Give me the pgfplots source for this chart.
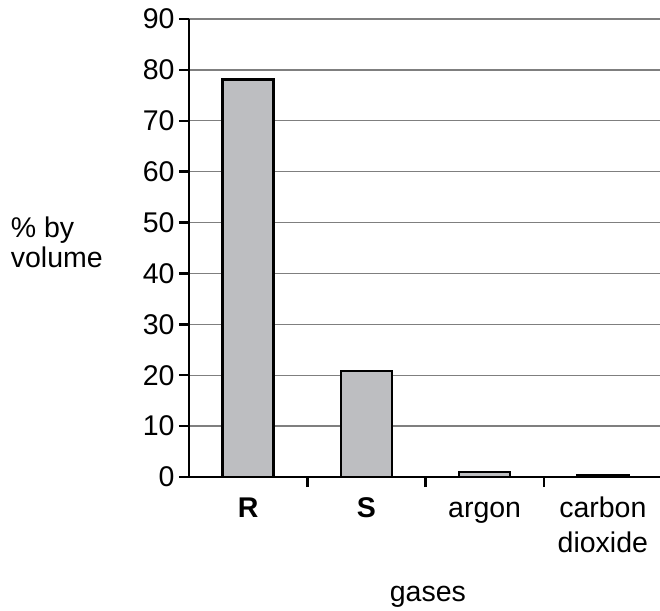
\documentclass[border=0pt]{standalone}
\usepackage{pgfplots}
\pgfplotsset{compat=1.18}
\usepackage{fontspec}
\setmainfont{Liberation Sans}
\definecolor{barfill}{HTML}{BDBEC1}
\definecolor{gridc}{HTML}{7F7F7F}
\begin{document}
\begin{tikzpicture}[x=1pt,y=1pt]
\path[use as bounding box] (0,0) rectangle (660,610);
\begin{axis}[
  at={(189pt,133pt)}, anchor=south west,
  scale only axis, width=473pt, height=458pt,
  xmin=0, xmax=4, ymin=0, ymax=90,
  axis lines*=left,
  axis line style={line width=2.5pt, black},
  ytick={0,10,...,90},
  ymajorgrids, grid style={gridc, line width=1.3pt},
  tick align=outside,
  major tick length=10pt,
  every tick/.style={black, line width=2.5pt},
  xtick={0.5,1.5,2.5,3.5},
  xticklabels={\strut\textbf{R},\strut\textbf{S},\strut argon,\strut carbon\\\strut dioxide},
  major x tick style={draw=none},
  minor xtick={1,2,3},
  minor tick length=10pt,
  every minor tick/.style={black, line width=2.5pt},
  xticklabel style={align=center, yshift=-2pt},
  yticklabel style={xshift=-1pt},
  font=\fontsize{28.5}{35}\selectfont,
  /pgf/number format/assume math mode=true,
  xlabel={gases},
  xlabel style={at={(axis description cs:0.505,-0.262)}, anchor=center},
  ylabel={\% by\\volume},
  ylabel style={rotate=-90, align=left, anchor=west, at={(axis description cs:-0.384,0.513)}, font=\fontsize{28.5}{30}\selectfont},
  ybar, bar width=51pt,
]
\addplot[fill=barfill, draw=black, line width=2.3pt] coordinates {(0.5,78.1) (1.5,20.8) (2.5,0.93) (3.5,0.3)};
\end{axis}
\end{tikzpicture}
\end{document}
